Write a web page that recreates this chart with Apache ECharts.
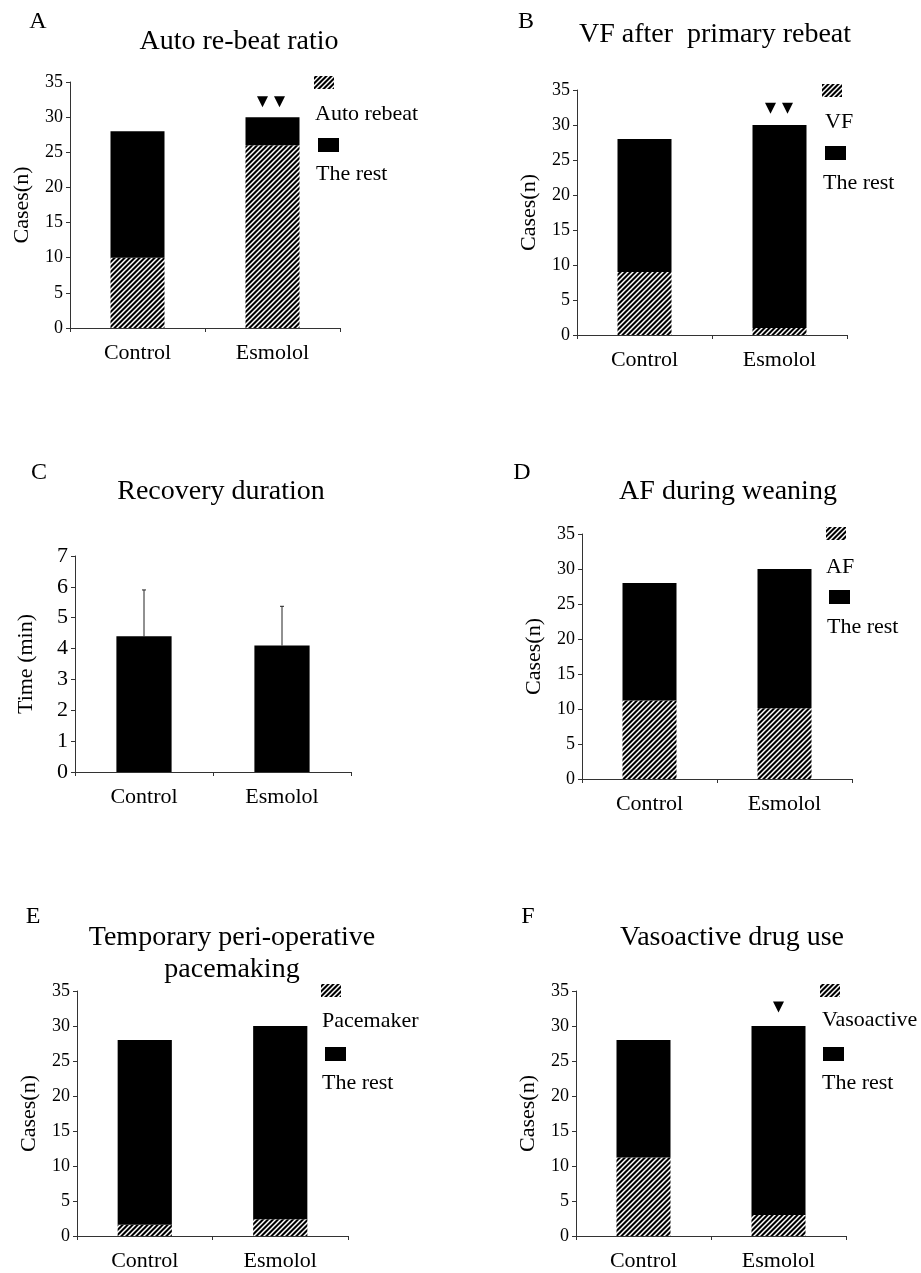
<!DOCTYPE html>
<html>
<head>
<meta charset="utf-8">
<script src="https://cdn.jsdelivr.net/npm/echarts@6/dist/echarts.min.js"></script>
<style>
html,body{margin:0;padding:0;background:#fff;}
#chart{width:921px;height:1273px;}
</style>
</head>
<body>
<div id="chart"></div>
<script>
// ---------------- data ----------------
var categories = ['Control', 'Esmolol'];
var casesTicks = [0, 5, 10, 15, 20, 25, 30, 35];

// A: Auto re-beat ratio
var aHatched = [10, 26];
var aRest = [18, 4];
// B: VF after primary rebeat
var bHatched = [9, 1];
var bRest = [19, 29];
// C: Recovery duration (mean, mean+SD)
var cMean = [4.4, 4.1];
var cUpper = [5.9, 5.37];
// D: AF during weaning
var dHatched = [11.2, 10.1];
var dRest = [16.8, 19.9];
// E: Temporary peri-operative pacemaking
var eHatched = [1.6, 2.4];
var eRest = [26.4, 27.6];
// F: Vasoactive drug use
var fHatched = [11.2, 3];
var fRest = [16.8, 27];

var panelLetters = ['A', 'B', 'C', 'D', 'E', 'F'];
var panelTitles = ['Auto re-beat ratio', 'VF after  primary rebeat', 'Recovery duration',
  'AF during weaning', 'Temporary peri-operative\npacemaking', 'Vasoactive drug use'];
var legendHatchedNames = ['Auto rebeat', 'VF', null, 'AF', 'Pacemaker', 'Vasoactive'];
var legendRestName = 'The rest';

// --------------- styles ---------------
var FONT = '"Liberation Serif", "DejaVu Serif", serif';
function makeHatch() {
  var c = document.createElement('canvas');
  var n = 5;
  c.width = n; c.height = n;
  var ctx = c.getContext('2d');
  ctx.fillStyle = '#000';
  ctx.fillRect(0, 0, n, n);
  ctx.strokeStyle = '#fff';
  ctx.lineWidth = 1.5;
  ctx.beginPath();
  ctx.moveTo(-1, n + 1); ctx.lineTo(n + 1, -1);
  ctx.moveTo(-1, 1); ctx.lineTo(1, -1);
  ctx.moveTo(n - 1, n + 1); ctx.lineTo(n + 1, n - 1);
  ctx.stroke();
  return c;
}
var hatchCanvas = makeHatch();
var hatchFill = { image: hatchCanvas, repeat: 'repeat' };

// grid boxes
var grids = [
  { left: 70, top: 82, width: 270, height: 246 },
  { left: 577, top: 90, width: 270, height: 245 },
  { left: 75, top: 556, width: 276, height: 216 },
  { left: 582, top: 534, width: 270, height: 245 },
  { left: 77, top: 991, width: 271, height: 245 },
  { left: 576, top: 991, width: 270, height: 245 }
];

var axisLineStyle = { color: '#333', width: 1 };

var xAxes = grids.map(function (g, i) {
  return {
    type: 'category', gridIndex: i, data: categories,
    boundaryGap: true,
    axisLine: { show: true, lineStyle: axisLineStyle },
    axisTick: { show: true, length: 4, lineStyle: axisLineStyle },
    axisLabel: { color: '#000', fontFamily: FONT, fontSize: 22, margin: 14 },
    splitLine: { show: false }
  };
});
var yAxes = grids.map(function (g, i) {
  var isC = (i === 2);
  return {
    type: 'value', gridIndex: i, min: 0, max: isC ? 7 : 35, interval: isC ? 1 : 5,
    name: isC ? 'Time (min)' : 'Cases(n)',
    nameLocation: 'middle', nameGap: isC ? 38 : 37,
    nameTextStyle: { color: '#000', fontFamily: FONT, fontSize: 22 },
    axisLine: { show: true, lineStyle: axisLineStyle },
    axisTick: { show: true, length: 4, lineStyle: axisLineStyle },
    axisLabel: { color: '#000', fontFamily: FONT, fontSize: isC ? 22 : 18, margin: 7 },
    splitLine: { show: false }
  };
});

function triMarks(val, offsets) {
  return {
    symbol: 'triangle', symbolRotate: 180, symbolSize: [11, 11],
    itemStyle: { color: '#000' }, label: { show: false },
    data: offsets.map(function (o) {
      return { coord: ['Esmolol', val], symbolOffset: [o, 0] };
    })
  };
}

function stackedPair(i, hatched, rest, marks) {
  var s1 = {
    type: 'bar', name: 'hatched' + i, xAxisIndex: i, yAxisIndex: i, stack: 's' + i,
    barWidth: '40%', data: hatched, itemStyle: { color: hatchFill }, silent: true
  };
  var s2 = {
    type: 'bar', name: 'rest' + i, xAxisIndex: i, yAxisIndex: i, stack: 's' + i,
    barWidth: '40%', data: rest, itemStyle: { color: '#000' }, silent: true
  };
  if (marks) s2.markPoint = marks;
  return [s1, s2];
}

var series = [];
series = series.concat(stackedPair(0, aHatched, aRest, triMarks(32.2, [-10, 7])));
series = series.concat(stackedPair(1, bHatched, bRest, triMarks(32.4, [-9, 8])));
series.push({
  type: 'bar', xAxisIndex: 2, yAxisIndex: 2, barWidth: '40%', data: cMean,
  itemStyle: { color: '#000' }, silent: true
});
series.push({
  type: 'custom', xAxisIndex: 2, yAxisIndex: 2, silent: true,
  data: cMean.map(function (m, k) { return [k, m, cUpper[k]]; }),
  renderItem: function (params, api) {
    var p0 = api.coord([api.value(0), api.value(1)]);
    var p1 = api.coord([api.value(0), api.value(2)]);
    return {
      type: 'group',
      children: [
        { type: 'line', shape: { x1: p0[0], y1: p0[1], x2: p1[0], y2: p1[1] }, style: { stroke: '#222', lineWidth: 1 } },
        { type: 'line', shape: { x1: p1[0] - 2, y1: p1[1], x2: p1[0] + 2, y2: p1[1] }, style: { stroke: '#222', lineWidth: 1 } }
      ]
    };
  }
});
series = series.concat(stackedPair(3, dHatched, dRest, null));
series = series.concat(stackedPair(4, eHatched, eRest, null));
series = series.concat(stackedPair(5, fHatched, fRest, triMarks(32.7, [0])));

// --------------- text & legend graphics ---------------
var letterPos = [[38, 22], [526, 22], [39, 473], [522, 473], [33, 917], [528, 917]];
var titlePos = [[239, 42], [715, 35], [221, 492], [728, 492], [232, 954], [732, 938]];
// legend: [hatchSwatchX, hatchSwatchY, label1X, label1Y, blackSwatchX, blackSwatchY, label2X, label2Y]
var legendPos = [
  [314, 76, 315, 114, 318, 138, 316, 174],
  [822, 84, 825, 122, 825, 146, 823, 183],
  null,
  [826, 527, 826, 567, 829, 590, 827, 627],
  [321, 984, 322, 1021, 325, 1047, 322, 1083],
  [820, 984, 822, 1020, 823, 1047, 822, 1083]
];

var graphics = [];
for (var i = 0; i < 6; i++) {
  graphics.push({
    type: 'text', x: letterPos[i][0], y: letterPos[i][1],
    style: { text: panelLetters[i], font: '24px ' + FONT, fill: '#000', textAlign: 'center', textVerticalAlign: 'middle' }
  });
  graphics.push({
    type: 'text', x: titlePos[i][0], y: titlePos[i][1],
    style: { text: panelTitles[i], font: '28px ' + FONT, lineHeight: 32, fill: '#000', textAlign: 'center', textVerticalAlign: 'middle' }
  });
  var L = legendPos[i];
  if (L) {
    graphics.push({ type: 'rect', shape: { x: L[0], y: L[1], width: 20, height: 13 }, style: { fill: hatchFill } });
    graphics.push({
      type: 'text', x: L[2], y: L[3],
      style: { text: legendHatchedNames[i], font: '22px ' + FONT, fill: '#000', textAlign: 'left', textVerticalAlign: 'middle' }
    });
    graphics.push({ type: 'rect', shape: { x: L[4], y: L[5], width: 21, height: 14 }, style: { fill: '#000' } });
    graphics.push({
      type: 'text', x: L[6], y: L[7],
      style: { text: legendRestName, font: '22px ' + FONT, fill: '#000', textAlign: 'left', textVerticalAlign: 'middle' }
    });
  }
}

var chart = echarts.init(document.getElementById('chart'), null, { renderer: 'canvas' });
chart.setOption({
  backgroundColor: '#fff',
  animation: false,
  grid: grids.map(function (g) { return Object.assign({ containLabel: false }, g); }),
  xAxis: xAxes,
  yAxis: yAxes,
  series: series,
  graphic: graphics
});
</script>
</body>
</html>
